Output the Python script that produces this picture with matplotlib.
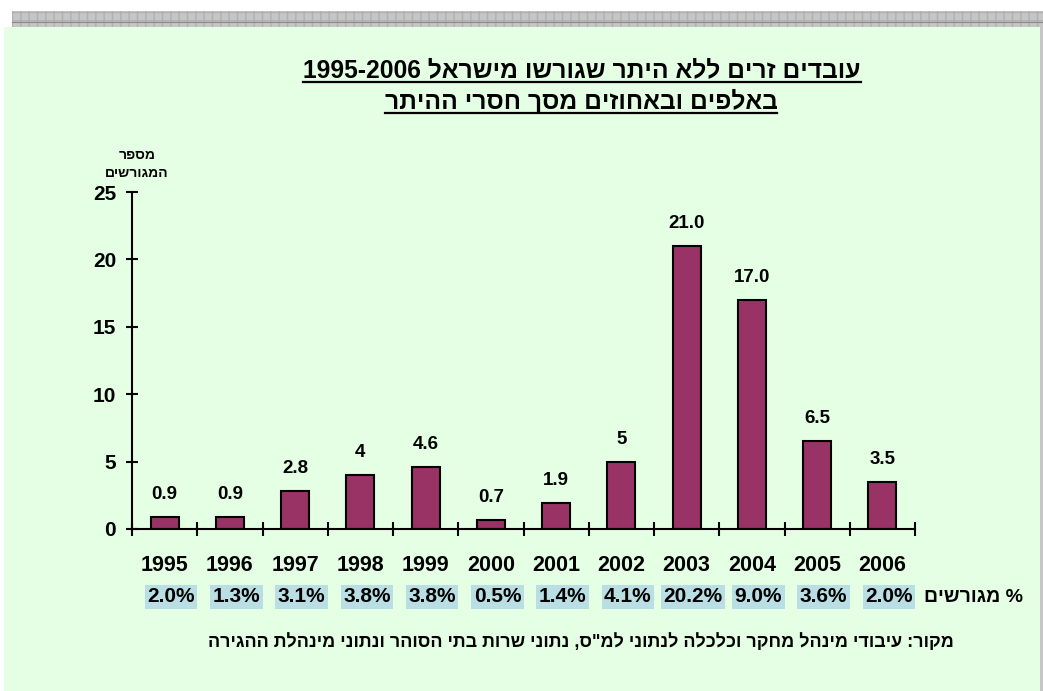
import re
import numpy as np
import matplotlib
matplotlib.use("Agg")
import matplotlib.pyplot as plt
from matplotlib.patches import Rectangle
from matplotlib.lines import Line2D
from matplotlib.transforms import blended_transform_factory

plt.rcParams.update({
    "font.family": ["Liberation Sans", "DejaVu Sans"],
    "font.weight": "bold",
})

years = ["1995", "1996", "1997", "1998", "1999", "2000",
         "2001", "2002", "2003", "2004", "2005", "2006"]
deported = [0.9, 0.9, 2.8, 4.0, 4.6, 0.7, 1.9, 5.0, 21.0, 17.0, 6.5, 3.5]
value_labels = ["0.9", "0.9", "2.8", "4", "4.6", "0.7",
                "1.9", "5", "21.0", "17.0", "6.5", "3.5"]
pct_labels = ["2.0%", "1.3%", "3.1%", "3.8%", "3.8%", "0.5%",
              "1.4%", "4.1%", "20.2%", "9.0%", "3.6%", "2.0%"]
yticks = [0, 5, 10, 15, 20, 25]

title1 = "עובדים זרים ללא היתר שגורשו מישראל 1995-2006"
title2 = "באלפים ובאחוזים מסך חסרי ההיתר"
ylab = ["מספר", "המגורשים"]
pct_name = "% מגורשים"
source = 'מקור: עיבודי מינהל מחקר וכלכלה לנתוני למ"ס, נתוני שרות בתי הסוהר ונתוני מינהלת ההגירה'

BAR = "#993366"
BG = "#e5ffe5"
BOX = "#b9dfe4"


def vis(s):
    # matplotlib has no bidi: flip hebrew to visual order, keep number runs
    r = s[::-1]
    return re.sub(r"[0-9.\-%]+", lambda m: m.group(0)[::-1], r)


W, H = 1043, 691
fig = plt.figure(figsize=(W / 100, H / 100), dpi=100)
fig.patch.set_facecolor("white")

# page decoration: grey band on top, green panel
fig.add_artist(Rectangle((4 / W, 0), 1036 / W, 664 / H, transform=fig.transFigure,
                         fc=BG, ec="none", zorder=-10))
fig.add_artist(Rectangle((12 / W, 1 - 27 / H), 1031 / W, 16 / H, transform=fig.transFigure,
                         fc="#c6c6c6", ec="#b0b0b0", hatch="++", lw=0, zorder=-10))
fig.add_artist(Line2D([12 / W, 1], [1 - 22 / H] * 2, transform=fig.transFigure,
                      color="#8a8a8a", lw=0.8, zorder=-9))
fig.add_artist(Rectangle((1040 / W, 0), 3 / W, 664 / H, transform=fig.transFigure,
                         fc="#c6c6c6", ec="none", zorder=-10))

ax = fig.add_axes([132 / W, 1 - 529 / H, (915 - 132) / W, (529 - 192) / H])
ax.set_facecolor("none")
x = np.arange(len(years))
ax.bar(x, deported, width=0.43, color=BAR, edgecolor="black", lw=1.5)
for i, (v, lab) in enumerate(zip(deported, value_labels)):
    ax.annotate(lab, (i, v), xytext=(0, 10), textcoords="offset points",
                ha="center", va="bottom", fontsize=13.5)

ax.set_xlim(-0.5, len(years) - 0.5)
ax.set_ylim(0, 25)
for s in ("top", "right"):
    ax.spines[s].set_visible(False)
for s in ("left", "bottom"):
    ax.spines[s].set_linewidth(1.5)

ax.set_yticks(yticks)
ax.tick_params(axis="y", direction="inout", length=8, width=1.5,
               labelsize=15, pad=7.5)
ax.set_xticks(np.arange(-0.5, len(years), 1))
ax.set_xticklabels([])
ax.tick_params(axis="x", which="major", direction="inout", length=9.5, width=1.5)
ax.set_xticks(x, minor=True)
ax.set_xticklabels(years, minor=True)
ax.tick_params(axis="x", which="minor", length=0, labelsize=15.5, pad=18.5)
for t in ax.get_xticklabels(minor=True) + ax.get_yticklabels():
    t.set_fontweight("bold")

# percent row
tr = blended_transform_factory(ax.transData, fig.transFigure)
for i, p in enumerate(pct_labels):
    ax.text(i + 0.1, 1 - 597 / H, p, transform=tr, ha="center", va="center",
            fontsize=15, bbox=dict(boxstyle="square,pad=0.12", fc=BOX, ec="none"))
fig.text(973 / W, 1 - 597 / H, vis(pct_name), ha="center", va="center", fontsize=14)

# y label
fig.text(137 / W, 1 - 155 / H, vis(ylab[0]), ha="center", va="center", fontsize=10)
fig.text(137 / W, 1 - 173 / H, vis(ylab[1]), ha="center", va="center", fontsize=10)

# title, underlined
t1 = fig.text(582 / W, 1 - 70 / H, vis(title1), ha="center", va="center", fontsize=17.7)
t2 = fig.text(581 / W, 1 - 101 / H, vis(title2), ha="center", va="center", fontsize=17.7)

fig.text(581 / W, 1 - 642 / H, vis(source), ha="center", va="center", fontsize=13)

fig.canvas.draw()
rend = fig.canvas.get_renderer()
for t, yl in ((t1, 82), (t2, 113)):
    bb = t.get_window_extent(rend).transformed(fig.transFigure.inverted())
    fig.add_artist(Line2D([bb.x0, bb.x1], [1 - yl / H] * 2,
                          transform=fig.transFigure, color="black", lw=1.6))

fig.savefig("out.png", dpi=100)
